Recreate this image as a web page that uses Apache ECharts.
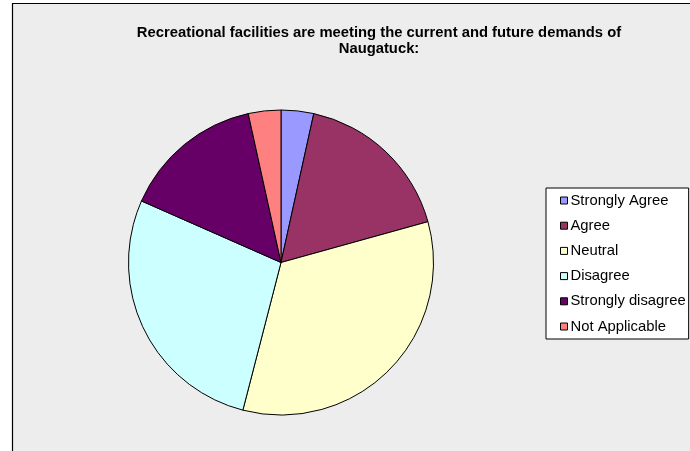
<!DOCTYPE html>
<html>
<head>
<meta charset="utf-8">
<script src="https://cdn.jsdelivr.net/npm/echarts@6/dist/echarts.min.js"></script>
<style>html,body{margin:0;padding:0;background:#fff;}#c{width:690px;height:451px;}</style>
</head>
<body>
<div id="c"></div>
<script>
const categories = ['Strongly Agree', 'Agree', 'Neutral', 'Disagree', 'Strongly disagree', 'Not Applicable'];
const counts = [3, 15, 29, 24, 13, 3];
const colors = ['#9999FF', '#993366', '#FFFFCC', '#CCFFFF', '#660066', '#FF8080'];
const titleText = 'Recreational facilities are meeting the current and future demands of\nNaugatuck:';

const chart = echarts.init(document.getElementById('c'), null, {renderer: 'canvas'});
chart.setOption({
  animation: false,
  backgroundColor: '#ffffff',
  graphic: [{
    type: 'rect', z: -10, silent: true,
    shape: {x: 12.5, y: 3.5, width: 720, height: 500},
    style: {fill: '#ededed', stroke: '#000', lineWidth: 1.2}
  }],
  title: {
    text: titleText,
    left: 374, top: 20, textAlign: 'center',
    textStyle: {fontFamily: "'Liberation Sans', Arial, sans-serif", fontWeight: 'bold', fontSize: 14.8, lineHeight: 16, color: '#000'}
  },
  legend: {
    orient: 'vertical', left: 546, top: 188,
    padding: [5, 3, 5, 14],
    itemWidth: 7, itemHeight: 7, itemGap: 10.2,
    icon: 'rect',
    backgroundColor: '#fff', borderColor: '#000', borderWidth: 1,
    textStyle: {fontFamily: "'Liberation Sans', Arial, sans-serif", fontSize: 14.8, lineHeight: 15, color: '#000', padding: [0,0,0,-2]},
    itemStyle: {borderColor: '#000', borderWidth: 1},
    data: categories
  },
  series: [{
    type: 'pie',
    center: [281, 262.5],
    radius: 152.5,
    startAngle: 90,
    clockwise: true,
    label: {show: false}, labelLine: {show: false},
    emphasis: {disabled: true},
    itemStyle: {borderColor: '#000', borderWidth: 1},
    data: categories.map((c, i) => ({name: c, value: counts[i], itemStyle: {color: colors[i]}}))
  }]
});
</script>
</body>
</html>
